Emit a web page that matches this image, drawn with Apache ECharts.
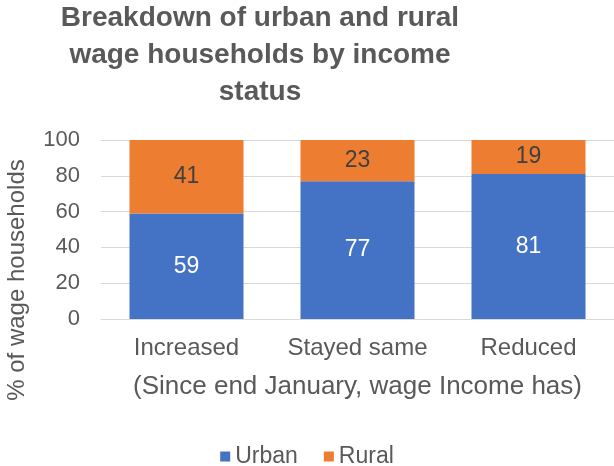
<!DOCTYPE html>
<html>
<head>
<meta charset="utf-8">
<script src="https://cdn.jsdelivr.net/npm/echarts@6/dist/echarts.min.js"></script>
<style>
  html, body { margin: 0; padding: 0; background: #fff; }
  #chart { width: 614px; height: 466px; }
</style>
</head>
<body>
<div id="chart"></div>
<script>
  const categories = ['Increased', 'Stayed same', 'Reduced']
  const urban = [59, 77, 81]
  const rural = [41, 23, 19]
  const yTicks = { min: 0, max: 100, interval: 20 }

  const font = 'Liberation Sans, Arial, sans-serif'
  const grey = '#595959'

  const chart = echarts.init(document.getElementById('chart'))
  chart.setOption({
    animation: false,
    textStyle: { fontFamily: font },
    title: {
      text: 'Breakdown of urban and rural\nwage households by income\nstatus',
      left: 260,
      textAlign: 'center',
      top: 0,
      padding: 0,
      textStyle: {
        fontFamily: font,
        fontSize: 28,
        fontWeight: 'bold',
        color: grey,
        lineHeight: 37
      }
    },
    legend: {
      left: 'center',
      top: 440,
      itemWidth: 10,
      itemHeight: 10,
      itemGap: 26,
      icon: 'rect',
      textStyle: { fontFamily: font, fontSize: 23, color: grey }
    },
    grid: {
      left: 101,
      right: 0,
      top: 140,
      bottom: 147,
      containLabel: false
    },
    xAxis: {
      type: 'category',
      data: categories,
      name: '(Since end January, wage Income has)',
      nameLocation: 'middle',
      nameGap: 55,
      nameTextStyle: { fontFamily: font, fontSize: 26, color: grey },
      axisLine: { lineStyle: { color: '#d9d9d9' } },
      axisTick: { show: false },
      axisLabel: { interval: 0, hideOverlap: false, fontFamily: font, fontSize: 24, color: grey, margin: 17 }
    },
    yAxis: {
      type: 'value',
      min: yTicks.min,
      max: yTicks.max,
      interval: yTicks.interval,
      axisLine: { show: false },
      axisTick: { show: false },
      axisLabel: { fontFamily: font, fontSize: 22, color: grey, margin: 21 },
      splitLine: { lineStyle: { color: '#d9d9d9' } }
    },
    graphic: [{
      type: 'text',
      x: 17,
      y: 280,
      rotation: Math.PI / 2,
      style: {
        text: '% of wage households',
        fontFamily: font,
        fontSize: 24,
        fill: grey,
        align: 'center',
        verticalAlign: 'middle'
      }
    }],
    series: [
      {
        name: 'Urban',
        type: 'bar',
        stack: 'total',
        barWidth: 114,
        data: urban,
        itemStyle: { color: '#4472C4' },
        label: { show: true, position: 'inside', fontFamily: font, fontSize: 23, color: '#ffffff' }
      },
      {
        name: 'Rural',
        type: 'bar',
        stack: 'total',
        barWidth: 114,
        data: rural,
        itemStyle: { color: '#ED7D31' },
        label: { show: true, position: 'inside', fontFamily: font, fontSize: 23, color: '#404040' }
      }
    ]
  })
</script>
</body>
</html>
